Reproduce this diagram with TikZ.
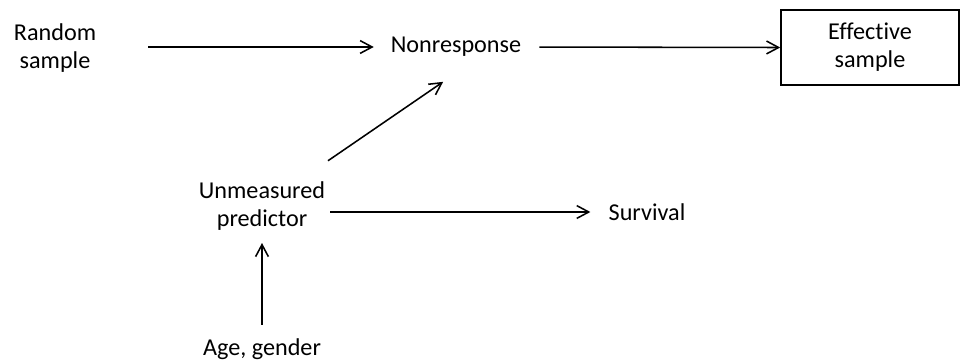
\documentclass[tikz,border=0pt]{standalone}
\usepackage{fontspec}
\setmainfont{Carlito}[Ligatures={NoCommon,NoRare,NoContextual}]
\usetikzlibrary{arrows.meta}
\begin{document}
\begin{tikzpicture}[x=0.025cm,y=-0.025cm,
  lbl/.style={inner sep=0pt,align=center,font=\fontsize{17.2}{19.9}\selectfont},
  conn/.style={line width=1.1pt,-{Straight Barb[length=3mm,width=3.2mm,line width=1.1pt]}}]
\useasboundingbox (0,0) rectangle (962,362);
% nodes
\node[lbl] (rand) at (55,48) {Random\\sample};
\node[lbl] (nonr) at (456,47) {Nonresponse};
\node[lbl,draw,line width=1.1pt,minimum width=4.45cm,minimum height=1.875cm] (eff) at (870,47.5) {Effective\\sample};
\node[lbl] (unm) at (262,206) {Unmeasured\\predictor};
\node[lbl] (surv) at (647,212) {Survival};
\node[lbl] (age) at (262,349) {Age, gender};
\coordinate (nonrfoot) at (456,73);
% arrows
\draw[conn,shorten <=1.3cm,shorten >=0.42cm] (rand.east |- nonr) -- (nonr.west);
\draw[conn,shorten <=0.45cm] (nonr.east) -- (eff.west);
\draw[conn,shorten <=2.0cm,shorten >=0.39cm] (unm.center) -- (nonrfoot);
\draw[conn,shorten <=1.7cm,shorten >=0.45cm] (unm.center |- surv.west) -- (surv.west);
\draw[conn,shorten <=0.6cm,shorten >=0.925cm] (age.center) -- (unm.center);
\end{tikzpicture}
\end{document}
